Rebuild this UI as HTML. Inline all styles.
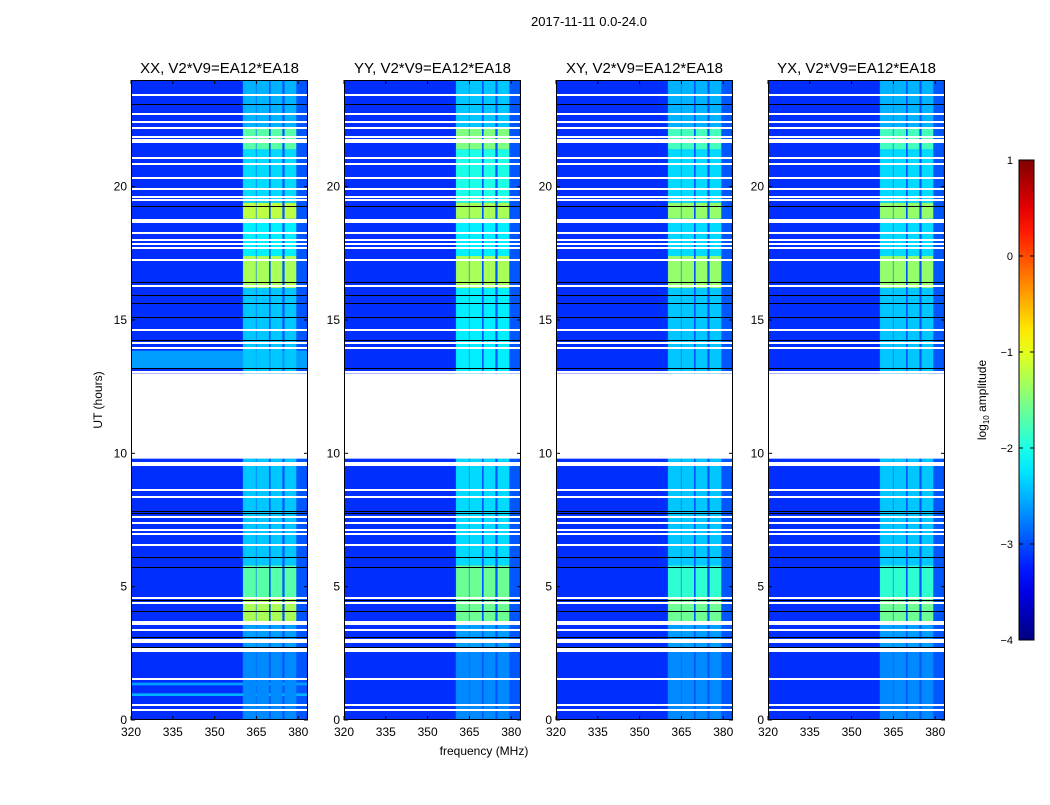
<!DOCTYPE html>
<html><head><meta charset="utf-8">
<style>
html,body{margin:0;padding:0;background:#fff;}
body{width:1050px;height:800px;overflow:hidden;font-family:"Liberation Sans","DejaVu Sans",sans-serif;}
svg text{font-family:"Liberation Sans","DejaVu Sans",sans-serif;}
</style></head>
<body>
<svg id="fig" width="1050" height="800" viewBox="0 0 1050 800" xmlns="http://www.w3.org/2000/svg">
<text x="589" y="26" font-size="13" text-anchor="middle">2017-11-11 0.0-24.0</text>
<text x="484" y="755" font-size="12" text-anchor="middle">frequency (MHz)</text>
<text x="102" y="400" font-size="12" text-anchor="middle" transform="rotate(-90 102 400)">UT (hours)</text>
<g id="panels"></g>
<g id="cbar"></g>
</svg>
<script>
// ---- data ----
const panelTitles = ["XX, V2*V9=EA12*EA18","YY, V2*V9=EA12*EA18","XY, V2*V9=EA12*EA18","YX, V2*V9=EA12*EA18"];
const xTicks = [320,335,350,365,380];
const yTicks = [0,5,10,15,20];
const cbarTicks = [1,0,-1,-2,-3,-4];
const freqRange = [320,383.5];
const timeRange = [0,24];
const cRange = [-4,1];
const backgroundLevel = -3.15;
const rfiRegion = [360,383];
const rfiRegionLevel = -2.95;
const bandStart = [360.2,365.0,370.1,375.1];
const bandEnd   = [364.8,369.5,374.3,379.3];
const segStart = [0.0, 2.7, 3.6, 4.6, 5.8, 13.0, 16.2, 17.4, 18.8, 19.4, 21.4, 22.2];
const segEnd   = [2.7, 3.6, 4.6, 5.8, 9.8, 16.2, 17.4, 18.8, 19.4, 21.4, 22.2, 24.0];
const segLevelXX = [-2.7,-2.6,-1.3,-1.7,-2.4,-2.4,-1.3,-2.2,-1.2,-2.3,-1.7,-2.5];
const segLevelYY = [-2.7,-2.6,-1.6,-1.6,-2.3,-2.2,-1.3,-2.2,-1.3,-2.0,-1.5,-2.4];
const segLevelXY = [-2.7,-2.6,-1.6,-1.9,-2.4,-2.4,-1.4,-2.3,-1.4,-2.3,-1.8,-2.5];
const segLevelYX = [-2.7,-2.6,-1.6,-1.9,-2.4,-2.4,-1.4,-2.3,-1.4,-2.3,-1.8,-2.5];
const gapStart = 9.8, gapEnd = 13.0;
const stripeStart = [13.2, 0.9, 1.3];
const stripeEnd   = [13.85, 1.0, 1.4];
const stripeLevel = [-2.6, -2.5, -2.6];
const whiteRows = [23.43,22.72,22.42,22.2,21.86,21.75,21.67,21.07,20.85,20.32,19.91,19.6,19.5,18.75,18.68,18.26,18.0,17.85,17.7,17.25,16.27,14.62,14.14,13.95,13.05,9.63,9.55,8.62,8.36,7.61,7.39,7.12,6.97,6.56,4.57,4.39,3.67,3.6,3.37,3.0,2.92,2.65,2.58,1.54,0.56,0.37];
const blackRows = [23.1,19.27,16.42,15.94,15.63,15.1,14.25,13.2,7.84,7.76,6.11,5.74,4.5,4.09,3.11,2.74];

// ---- layout ----
const panelX = [131,344,556,768];
const panelW = 177, plotTop = 80, plotBottom = 720;
function jet(t){
  t=Math.max(0,Math.min(1,t));
  const r=Math.max(0,Math.min(1,1.5-Math.abs(4*t-3)));
  const g=Math.max(0,Math.min(1,1.5-Math.abs(4*t-2)));
  const b=Math.max(0,Math.min(1,1.5-Math.abs(4*t-1)));
  return `rgb(${Math.round(r*255)},${Math.round(g*255)},${Math.round(b*255)})`;
}
function col(v){return jet((v-cRange[0])/(cRange[1]-cRange[0]));}
const NS="http://www.w3.org/2000/svg";
function mk(tag,attrs,parent){const e=document.createElementNS(NS,tag);for(const k in attrs)e.setAttribute(k,attrs[k]);parent.appendChild(e);return e;}
const levels=[segLevelXX,segLevelYY,segLevelXY,segLevelYX];
const panelsG=document.getElementById('panels');
panelTitles.forEach((title,p)=>{
  const x0=panelX[p];
  const xs=f=>x0+(f-freqRange[0])/(freqRange[1]-freqRange[0])*panelW;
  const ys=h=>plotBottom-(h-timeRange[0])/(timeRange[1]-timeRange[0])*(plotBottom-plotTop);
  const g=mk('g',{},panelsG);
  
  
  const bg=mk('rect',{x:x0,y:plotTop,width:panelW,height:plotBottom-plotTop,fill:col(backgroundLevel)},g);
  
  
  const rr=mk('rect',{x:xs(rfiRegion[0]),y:plotTop,width:xs(rfiRegion[1])-xs(rfiRegion[0]),height:plotBottom-plotTop,fill:col(rfiRegionLevel)},g);
  
  
  if(p===0){
    stripeStart.forEach((s,i)=>{
      const r=mk('rect',{x:x0,y:ys(stripeEnd[i]),width:panelW,height:ys(s)-ys(stripeEnd[i]),fill:col(stripeLevel[i])},g);
      
      
    });
  }
  segStart.forEach((s,i)=>{
    bandStart.forEach((b,j)=>{
      const c=mk('rect',{x:xs(b),y:ys(segEnd[i]),width:xs(bandEnd[j])-xs(b),height:ys(s)-ys(segEnd[i]),fill:col(levels[p][i])},g);
      
      
    });
  });
  whiteRows.forEach(h=>{
    const r=mk('rect',{x:x0,y:Math.round(ys(h))-1,width:panelW,height:2,fill:'#fff'},g);
    
    
  });
  blackRows.forEach(h=>{
    const r=mk('rect',{x:x0,y:Math.round(ys(h)),width:panelW,height:1,fill:'#000'},g);
    
    
  });
  const gp=mk('rect',{x:x0,y:ys(gapEnd),width:panelW,height:ys(gapStart)-ys(gapEnd),fill:'#fff'},g);
  
  
  const fr=mk('rect',{x:x0+0.5,y:plotTop+0.5,width:panelW-1,height:plotBottom-plotTop-1,fill:'none',stroke:'#000','stroke-width':1},g);
  
  
  const t=mk('text',{x:x0+panelW/2,y:plotTop-7,'font-size':15,'text-anchor':'middle'},g);
  t.textContent=title;
  
  
  xTicks.forEach(v=>{
    const x=xs(v);
    mk('line',{x1:x,x2:x,y1:plotBottom,y2:plotBottom-4,stroke:'#000'},g);
    mk('line',{x1:x,x2:x,y1:plotTop,y2:plotTop+4,stroke:'#000'},g);
    const l=mk('text',{x:x,y:plotBottom+16,'font-size':12,'text-anchor':'middle'},g);
    l.textContent=v;
    
    
  });
  yTicks.forEach(v=>{
    const y=ys(v);
    mk('line',{x1:x0,x2:x0+4,y1:y,y2:y,stroke:'#000'},g);
    mk('line',{x1:x0+panelW,x2:x0+panelW-4,y1:y,y2:y,stroke:'#000'},g);
    const l=mk('text',{x:x0-4,y:y+4,'font-size':12,'text-anchor':'end'},g);
    l.textContent=v;
    
    
  });
});
const cb=document.getElementById('cbar');


const cx=1019,cw=15,ct=160,cbm=640;
const defs=mk('defs',{},cb);
const grad=mk('linearGradient',{id:'jetg',x1:0,y1:1,x2:0,y2:0},defs);
for(let i=0;i<=20;i++){mk('stop',{offset:i/20,'stop-color':jet(i/20)},grad);}
mk('rect',{x:cx,y:ct,width:cw,height:cbm-ct,fill:'url(#jetg)',stroke:'#000','stroke-width':1},cb);
cbarTicks.forEach(v=>{
  const y=cbm-(v-cRange[0])/(cRange[1]-cRange[0])*(cbm-ct);
  mk('line',{x1:cx,x2:cx+4,y1:y,y2:y,stroke:'#000'},cb);
  mk('line',{x1:cx+cw,x2:cx+cw-4,y1:y,y2:y,stroke:'#000'},cb);
  const l=mk('text',{x:cx-6,y:y+4,'font-size':11,'text-anchor':'end'},cb);
  l.textContent=(v<0?'\u2212'+(-v):v);
  
  
});
const cl=mk('text',{x:986,y:400,'font-size':12,'text-anchor':'middle',transform:'rotate(-90 986 400)'},cb);
cl.innerHTML='log<tspan font-size="8" dy="3">10</tspan><tspan dy="-3"> amplitude</tspan>';


</script>
</body></html>
